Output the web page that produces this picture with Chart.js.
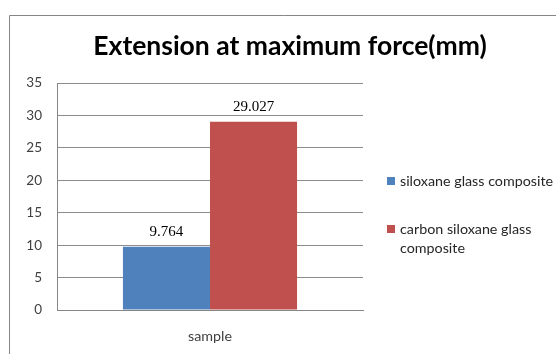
<!DOCTYPE html>
<html>
<head>
<meta charset="utf-8">
<script src="https://cdn.jsdelivr.net/npm/chart.js@4.4.1/dist/chart.umd.min.js"></script>
<style>
  html, body { margin: 0; padding: 0; background: #ffffff; }
  #wrap { width: 556px; height: 354px; position: relative; }
</style>
</head>
<body>
<div id="wrap"><canvas id="chart" width="556" height="354"></canvas></div>
<script>
// Chart content
const chartTitle = 'Extension at maximum force(mm)';
const categories = ['sample'];
const seriesNames = ['siloxane glass composite', 'carbon siloxane glass composite'];
const siloxaneGlass = [9.764];
const carbonSiloxaneGlass = [29.027];
const seriesColors = ['#4F81BD', '#C0504D'];
const yTicks = [0, 5, 10, 15, 20, 25, 30, 35];

const UI_FONT = 'Lato, "Open Sans", sans-serif';

// Outer frame around the chart object (runs off the right and bottom edges)
const framePlugin = {
  id: 'frame',
  beforeDraw(chart) {
    const ctx = chart.ctx;
    ctx.save();
    ctx.strokeStyle = '#868686';
    ctx.lineWidth = 1;
    ctx.beginPath();
    ctx.moveTo(9.5, chart.height + 1);
    ctx.lineTo(9.5, 15.5);
    ctx.lineTo(chart.width + 1, 15.5);
    ctx.stroke();
    ctx.restore();
  }
};

// Centered title above the plot
const titlePlugin = {
  id: 'bigTitle',
  afterDraw(chart) {
    const ctx = chart.ctx;
    ctx.save();
    ctx.font = 'bold 26.5px ' + UI_FONT;
    ctx.fillStyle = '#000000';
    ctx.textAlign = 'center';
    ctx.textBaseline = 'middle';
    ctx.fillText(chartTitle, 290, 46);
    ctx.restore();
  }
};

// Value labels above each bar
const valueLabelPlugin = {
  id: 'valueLabels',
  afterDatasetsDraw(chart) {
    const ctx = chart.ctx;
    ctx.save();
    ctx.font = '15px "Liberation Serif", "Times New Roman", serif';
    ctx.fillStyle = '#000000';
    ctx.textAlign = 'center';
    ctx.textBaseline = 'middle';
    chart.data.datasets.forEach((ds, i) => {
      const meta = chart.getDatasetMeta(i);
      meta.data.forEach((bar, j) => {
        ctx.fillText(ds.data[j].toFixed(3), bar.x, bar.y - 15);
      });
    });
    ctx.restore();
  }
};

// Legend on the right with word-wrapped entries
const sideLegendPlugin = {
  id: 'sideLegend',
  afterDraw(chart) {
    const ctx = chart.ctx;
    const boxX = 387, textX = 400, maxW = 156, lineH = 19;
    const rowY = [181, 229];
    ctx.save();
    ctx.font = '14.3px ' + UI_FONT;
    ctx.textBaseline = 'middle';
    chart.data.datasets.forEach((ds, i) => {
      const words = ds.label.split(' ');
      const lines = [];
      let cur = '';
      words.forEach(w => {
        const test = cur ? cur + ' ' + w : w;
        if (ctx.measureText(test).width > maxW && cur) { lines.push(cur); cur = w; }
        else cur = test;
      });
      if (cur) lines.push(cur);
      ctx.fillStyle = ds.backgroundColor;
      ctx.fillRect(boxX, rowY[i] - 4, 8, 8);
      ctx.fillStyle = '#262626';
      lines.forEach((ln, k) => ctx.fillText(ln, textX, rowY[i] + k * lineH));
    });
    ctx.restore();
  }
};

new Chart(document.getElementById('chart'), {
  type: 'bar',
  data: {
    labels: categories,
    datasets: [
      { label: seriesNames[0], data: siloxaneGlass, backgroundColor: seriesColors[0] },
      { label: seriesNames[1], data: carbonSiloxaneGlass, backgroundColor: seriesColors[1] }
    ]
  },
  options: {
    responsive: false,
    animation: false,
    devicePixelRatio: 1,
    layout: { padding: { top: 83, right: 193, bottom: 0, left: 0 } },
    datasets: { bar: { categoryPercentage: 0.569, barPercentage: 1.0 } },
    plugins: {
      legend: { display: false },
      title: { display: false },
      tooltip: { enabled: false }
    },
    scales: {
      x: {
        grid: { display: false, drawTicks: false },
        border: { display: true, color: '#868686' },
        ticks: { padding: 18, color: '#404040', font: { family: UI_FONT, size: 14.3 } },
        afterFit(scale) { scale.height = 44; }
      },
      y: {
        min: 0,
        max: 35,
        afterBuildTicks(scale) { scale.ticks = yTicks.map(v => ({ value: v })); },
        grid: { color: '#8c8c8c', drawTicks: false },
        border: { display: true, color: '#868686' },
        ticks: { padding: 15, color: '#404040', font: { family: UI_FONT, size: 13.5 } },
        afterFit(scale) { scale.width = 57; }
      }
    }
  },
  plugins: [framePlugin, titlePlugin, valueLabelPlugin, sideLegendPlugin]
});
</script>
</body>
</html>
